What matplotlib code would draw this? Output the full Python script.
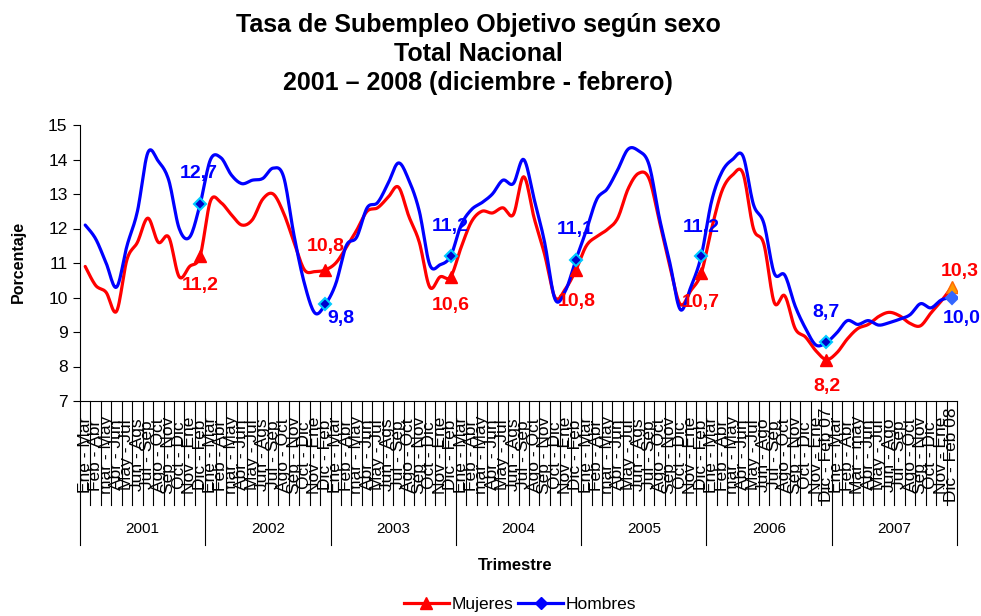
import numpy as np
import matplotlib
matplotlib.use('Agg')
import matplotlib.pyplot as plt
from matplotlib.lines import Line2D

plt.rcParams['font.family'] = ['Liberation Sans', 'DejaVu Sans']

# ---- data ----
anios = ['2001', '2002', '2003', '2004', '2005', '2006', '2007']

periodos_01 = ['Ene - Mar', 'Feb - Abr', 'mar - May', 'Abr - Jun', 'May - Jul', 'Jun - Ags',
               'Jul - Sep', 'Ago - Oct', 'Sep - Nov', 'Oct - Dic', 'Nov - Ene', 'Dic - Feb']
periodos_06 = ['Ene - Mar', 'Feb - Abr', 'mar - May', 'Abr - Jun', 'May - Jul', 'Jun - Ago',
               'Jul - Sep', 'Ago - Oct', 'Sep - Nov', 'Oct - Dic', 'Nov - Ene', 'Dic - Feb 07']
periodos_07 = ['Ene - Mar', 'Feb - Abr', 'Mar - may', 'Abr - Jun', 'May - Jul', 'Jun - Ago',
               'Jul - Sep', 'Ago - Oct', 'Sep - Nov', 'Oct - Dic', 'Nov - Ene', 'Dic - Feb 08']
periodos = periodos_01 * 5 + periodos_06 + periodos_07

mujeres = [10.9, 10.35, 10.15, 9.6, 11.1, 11.6, 12.3, 11.6, 11.75, 10.6, 10.9, 11.2,
           12.8, 12.75, 12.4, 12.1, 12.25, 12.85, 13.0, 12.45, 11.6, 10.8, 10.75, 10.8,
           11.0, 11.45, 11.95, 12.5, 12.6, 12.9, 13.2, 12.35, 11.6, 10.3, 10.6, 10.6,
           11.45, 12.2, 12.5, 12.45, 12.6, 12.4, 13.5, 12.3, 11.25, 10.0, 10.25, 10.8,
           11.5, 11.77, 11.97, 12.3, 13.15, 13.6, 13.45, 12.2, 10.9, 9.8, 10.2, 10.7,
           12.0, 13.1, 13.55, 13.6, 12.0, 11.55, 9.85, 10.05, 9.1, 8.85, 8.45, 8.2,
           8.4, 8.8, 9.1, 9.22, 9.45, 9.57, 9.47, 9.25, 9.18, 9.55, 9.9, 10.3]

hombres = [12.1, 11.7, 11.0, 10.3, 11.5, 12.5, 14.2, 13.95, 13.4, 12.0, 11.75, 12.7,
           14.0, 14.05, 13.55, 13.3, 13.4, 13.45, 13.75, 13.5, 11.8, 10.4, 9.55, 9.8,
           10.4, 11.5, 11.75, 12.6, 12.75, 13.3, 13.9, 13.4, 12.5, 10.95, 10.95, 11.2,
           12.1, 12.55, 12.75, 13.0, 13.4, 13.3, 14.0, 12.85, 11.6, 9.95, 10.2, 11.1,
           11.95, 12.85, 13.15, 13.7, 14.3, 14.25, 13.85, 12.3, 11.0, 9.65, 10.3, 11.2,
           12.8, 13.65, 14.0, 14.1, 12.7, 12.15, 10.7, 10.65, 9.75, 9.1, 8.62, 8.7,
           8.98, 9.33, 9.22, 9.33, 9.2, 9.27, 9.37, 9.5, 9.82, 9.7, 9.93, 10.0]

# labelled points (Dic - Feb of each year)
marcas = [11, 23, 35, 47, 59, 71, 83]
# label offsets in pixels (dx, dy)
off_muj = [(0, -29), (0, 23), (0, -29), (1, -32), (0, -29), (0, -27), (8, 16)]
off_hom = [(-1, 31), (16, -14), (0, 30), (-1, 30), (0, 29), (0, 30), (10, -21)]


def suavizar(y, n=12):
    # excel-like smoothed line (bezier through the points)
    y = np.asarray(y, float)
    p = np.column_stack([np.arange(len(y)) + 0.5, y])
    pad = np.vstack([p[0], p, p[-1]])
    t = np.linspace(0, 1, n + 1)[1:, None]
    out = [p[:1]]
    for k in range(len(p) - 1):
        p0, p1, p2, p3 = pad[k], pad[k + 1], pad[k + 2], pad[k + 3]
        c1 = p1 + (p2 - p0) / 6
        c2 = p2 - (p3 - p1) / 6
        out.append((1 - t) ** 3 * p1 + 3 * (1 - t) ** 2 * t * c1 + 3 * (1 - t) * t ** 2 * c2 + t ** 3 * p2)
    s = np.vstack(out)
    return s[:, 0], s[:, 1]


W, H = 981, 616
fig = plt.figure(figsize=(W / 100, H / 100), dpi=100)
ax = fig.add_axes([80 / W, 1 - 401 / H, 877 / W, 276 / H])

rojo, azul = '#FF0000', '#0000FF'
xs, ys = suavizar(mujeres)
ax.plot(xs, ys, color=rojo, lw=2.3, solid_capstyle='round', zorder=3)
xs, ys = suavizar(hombres)
ax.plot(xs, ys, color=azul, lw=2.3, solid_capstyle='round', zorder=3)

for j, i in enumerate(marcas):
    ultimo = (i == marcas[-1])
    ax.plot(i + 0.5, mujeres[i], marker='^', ms=9,
            mfc='#FF9900' if ultimo else rojo, mec='#FF6600' if ultimo else rojo, zorder=4)
    ax.plot(i + 0.5, hombres[i], marker='D', ms=6.5,
            mfc='#3366FF' if ultimo else '#0000CC', mec='#3366FF' if ultimo else '#00CCFF',
            mew=1.5, zorder=5)
    ax.annotate(f'{mujeres[i]:.1f}'.replace('.', ','), (i + 0.5, mujeres[i]),
                xytext=off_muj[j], textcoords='offset pixels', ha='center', va='center',
                color=rojo, fontsize=14, fontweight='bold', zorder=6)
    ax.annotate(f'{hombres[i]:.1f}'.replace('.', ','), (i + 0.5, hombres[i]),
                xytext=off_hom[j], textcoords='offset pixels', ha='center', va='center',
                color=azul, fontsize=14, fontweight='bold', zorder=6)

ax.set_xlim(0, len(periodos))
ax.set_ylim(7, 15)
ax.set_yticks(range(7, 16))
ax.tick_params(axis='y', length=5, width=0.8, labelsize=12.5, pad=4)
ax.set_xticks([])
for s in ['top', 'right']:
    ax.spines[s].set_visible(False)
ax.spines['left'].set_linewidth(0.8)
ax.spines['bottom'].set_linewidth(0.8)
fig.text(18 / W, 1 - 262 / H, 'Porcentaje', rotation=90, ha='center', va='center',
         fontsize=11.5, fontweight='bold')

# two-level category axis
tr = ax.get_xaxis_transform()
for i, lab in enumerate(periodos):
    ax.text(i + 0.5, -54 / 276, lab, rotation=90, ha='center', va='center',
            fontsize=12.5, transform=tr, clip_on=False)
for k in range(len(periodos) + 1):
    low = -144 / 276 if k % 12 == 0 else -104 / 276
    ax.plot([k, k], [0, low], color='black', lw=0.8, transform=tr, clip_on=False)
for j, a in enumerate(anios):
    ax.text(j * 12 + 6, -128 / 276, a, ha='center', va='center', fontsize=11,
            transform=tr, clip_on=False)

fig.text(515 / W, 1 - 566 / H, 'Trimestre', ha='center', va='center',
         fontsize=12, fontweight='bold')

fig.text(478 / W, 1 - 54 / H,
         'Tasa de Subempleo Objetivo según sexo\nTotal Nacional\n2001 \u2013 2008 (diciembre - febrero)',
         ha='center', va='center', fontsize=18, fontweight='bold', linespacing=1.27)

handles = [Line2D([], [], color=rojo, lw=2.3, marker='^', ms=8, mfc=rojo, mec=rojo),
           Line2D([], [], color=azul, lw=2.3, marker='D', ms=6, mfc=azul, mec=azul)]
fig.legend(handles, ['Mujeres', 'Hombres'], loc='center', ncol=2, frameon=False,
           bbox_to_anchor=(520 / W, 1 - 604 / H), fontsize=12.5, handlelength=2.6,
           columnspacing=0.3, handletextpad=0.15)

fig.savefig('out.png', dpi=100)
